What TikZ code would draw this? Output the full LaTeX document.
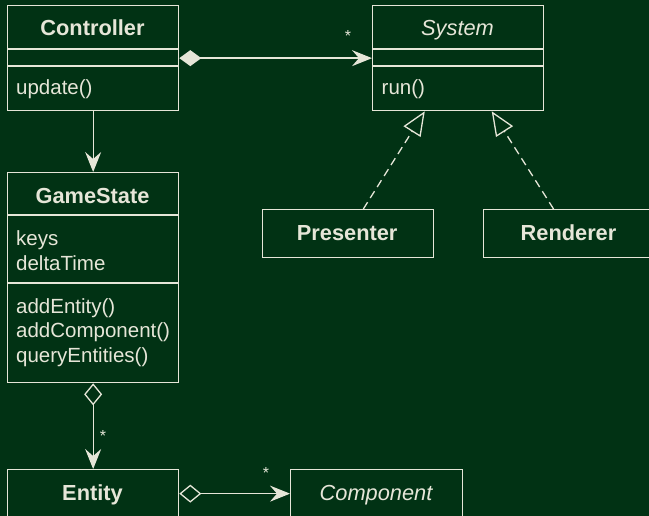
\documentclass[tikz,border=0pt]{standalone}
\usepackage{fontspec}
\setmainfont{Liberation Sans}
\usetikzlibrary{arrows.meta}
\definecolor{bg}{RGB}{1,50,20}
\definecolor{ink}{RGB}{230,230,216}
\tikzset{
  classbox/.style={draw=ink, line width=1.3pt, inner sep=0pt, anchor=north west},
  headtext/.style={text=ink, inner sep=0pt, anchor=base, font=\fontsize{21.8}{26}\selectfont\bfseries},
  abstracttext/.style={text=ink, inner sep=0pt, anchor=base, font=\fontsize{21.8}{26}\selectfont\itshape},
  membertext/.style={text=ink, inner sep=0pt, anchor=base west, font=\fontsize{20.5}{24.5}\selectfont},
  multtext/.style={text=ink, inner sep=0pt, anchor=base, font=\fontsize{16}{16}\selectfont},
  link/.style={draw=ink, line width=1.3pt},
  composition/.style={link, {Diamond[length=22pt,width=16pt]}-{Stealth[length=20pt,width=16pt,inset=7pt]}},
  aggregation/.style={link, {Diamond[open,length=22pt,width=18pt]}-{Stealth[length=20pt,width=16pt,inset=7pt]}},
  association/.style={link, -{Stealth[length=20pt,width=16pt,inset=7pt]}},
  realization/.style={link, dash pattern=on 8pt off 5pt, -{Triangle[open,length=24pt,width=20pt]}},
}
\begin{document}
\begin{tikzpicture}[x=1pt,y=-1pt]
\useasboundingbox (0,0) rectangle (649,516);
\clip (0,0) rectangle (649,516);
\fill[bg] (0,0) rectangle (649,516);

% Controller
\node[classbox, minimum width=171pt, minimum height=105pt] (ctrl) at (7,5) {};
\draw[link] (ctrl.west |- 0,49) -- (ctrl.east |- 0,49);
\draw[link] (ctrl.west |- 0,66) -- (ctrl.east |- 0,66);
\node[headtext] (ctrlname) at (92.5,35.7) {Controller};
\node[membertext] (ctrlupdate) at (16,95) {update()};

% System
\node[classbox, minimum width=171pt, minimum height=105pt] (sys) at (372,5) {};
\draw[link] (sys.west |- 0,49) -- (sys.east |- 0,49);
\draw[link] (sys.west |- 0,66) -- (sys.east |- 0,66);
\node[abstracttext] (sysname) at (457.5,35.7) {System};
\node[membertext] (sysrun) at (381.5,95) {run()};

% GameState
\node[classbox, minimum width=171pt, minimum height=210pt] (gs) at (7,172) {};
\draw[link] (gs.west |- 0,215) -- (gs.east |- 0,215);
\draw[link] (gs.west |- 0,283) -- (gs.east |- 0,283);
\node[headtext] (gsname) at (92.5,203.3) {GameState};
\node[membertext] (gskeys) at (16,246) {keys};
\node[membertext] (gsdt) at (16,270.5) {deltaTime};
\node[membertext] (gsadde) at (16,313.3) {addEntity()};
\node[membertext] (gsaddc) at (16,337.8) {addComponent()};
\node[membertext] (gsquery) at (16,362.3) {queryEntities()};

% Presenter and Renderer
\node[classbox, minimum width=171pt, minimum height=48pt] (pres) at (261.7,209) {};
\node[headtext] (presname) at (347.2,240.7) {Presenter};
\node[classbox, minimum width=171pt, minimum height=48pt] (rend) at (483,209) {};
\node[headtext] (rendname) at (568.5,240.7) {Renderer};

% Entity and Component
\node[classbox, minimum width=171pt, minimum height=48pt] (ent) at (7,469) {};
\node[headtext] (entname) at (92.5,500) {Entity};
\node[classbox, minimum width=172pt, minimum height=48pt] (comp) at (290,469) {};
\node[abstracttext] (compname) at (376,500) {Component};

% relations
\draw[composition] (ctrl.east) -- (sys.west);
\node[multtext] (m1) at (348,42) {*};
\draw[association] (ctrl) -- (gs);
\draw[realization] (pres) -- (sys);
\draw[realization] (rend) -- (sys);
\draw[aggregation] (gs) -- (ent);
\node[multtext] (m2) at (103,441) {*};
\draw[aggregation] (ent.east) -- (comp.west);
\node[multtext] (m3) at (266,478) {*};
\end{tikzpicture}
\end{document}
